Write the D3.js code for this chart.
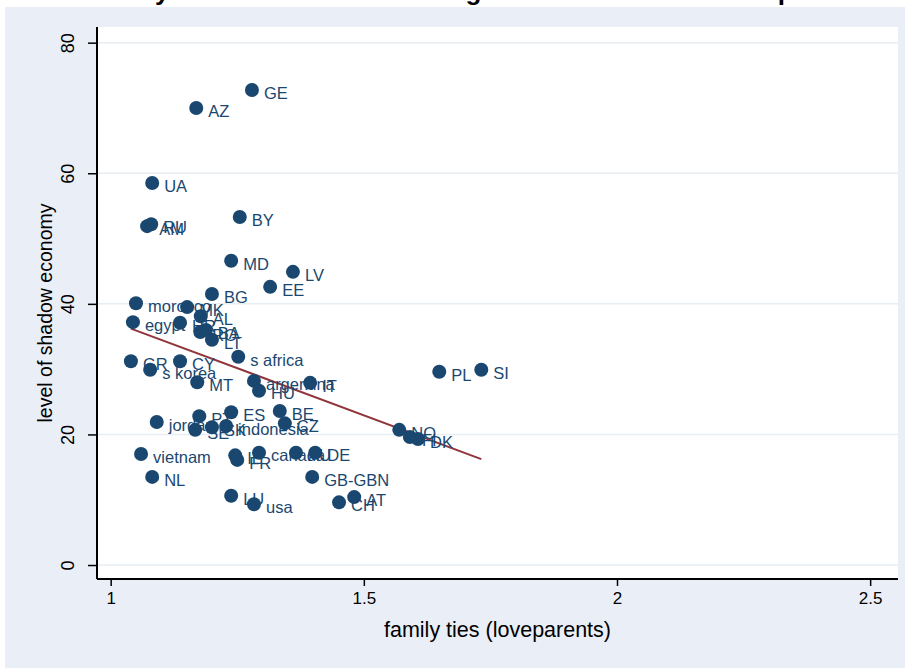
<!DOCTYPE html>
<html>
<head>
<meta charset="utf-8">
<script src="https://cdn.jsdelivr.net/npm/d3@7"></script>
<style>
  body { margin: 0; background: #fff; }
  text { font-family: "Liberation Sans", Arial, sans-serif; }
</style>
</head>
<body>
<div id="chart"></div>
<script>
// country labels, family ties (x) and shadow economy (y)
const countries = ["GE","AZ","UA","AM","RU","BY","MD","LV","EE","BG","morocco","egypt",
  "MK","AL","HR","RO","BA","LT","s africa","GR","CY","s korea","MT","argentina","HU","IT",
  "PL","SI","ES","BE","PT","jordan","SE","SK","indonesia","CZ","NO","FI","DK","vietnam",
  "IE","FR","canada","AU","DE","NL","GB-GBN","LU","usa","CH","AT"];
const loveparents = [1.279,1.169,1.082,1.072,1.080,1.255,1.238,1.360,1.315,1.200,1.050,1.044,
  1.151,1.178,1.137,1.177,1.188,1.200,1.252,1.040,1.137,1.078,1.171,1.283,1.293,1.394,
  1.649,1.732,1.238,1.334,1.175,1.091,1.167,1.200,1.228,1.344,1.570,1.591,1.607,1.060,
  1.246,1.250,1.293,1.366,1.404,1.082,1.398,1.238,1.283,1.451,1.481];
const shadow = [72.75,70.0,58.5,51.9,52.2,53.3,46.6,44.9,42.6,41.5,40.1,37.2,
  39.5,38.1,37.1,35.7,36.0,34.5,31.9,31.2,31.2,29.9,28.0,28.2,26.7,27.9,
  29.6,29.9,23.4,23.6,22.8,21.9,20.7,21.1,21.3,21.7,20.7,19.6,19.3,17.0,
  16.8,16.1,17.2,17.2,17.2,13.5,13.5,10.6,9.3,9.6,10.4];

// fitted line
const fitIntercept = 66.27;
const fitSlope = -28.9;

const xTicks = [1, 1.5, 2, 2.5];
const yTicks = [0, 20, 40, 60, 80];

const width = 905, height = 668;
const navy = "#1a476f";

const svg = d3.select("#chart").append("svg")
  .attr("width", width)
  .attr("height", height);

// graph region background
svg.append("rect")
  .attr("x", 5).attr("y", 7)
  .attr("width", width - 5).attr("height", height - 7)
  .attr("fill", "#eaeef6");

// title, cut off at the top so only descenders show
svg.append("text")
  .attr("x", 87).attr("y", 0)
  .style("font-size", "26px")
  .style("font-weight", "bold")
  .text("Family ties and shadow labor: global cross-section sample");

const pLeft = 97, pRight = 898, pTop = 27, pBottom = 579;

svg.append("rect")
  .attr("x", pLeft).attr("y", pTop)
  .attr("width", pRight - pLeft).attr("height", pBottom - pTop)
  .attr("fill", "#fff");

const x = d3.scaleLinear()
  .domain([0.973, 2.555])
  .range([pLeft, pRight]);

const y = d3.scaleLinear()
  .domain([-2.14, 82.4])
  .range([pBottom, pTop]);

// grid lines
svg.append("g")
  .selectAll("line")
  .data(yTicks)
  .join("line")
  .attr("x1", pLeft).attr("x2", pRight)
  .attr("y1", d => y(d)).attr("y2", d => y(d))
  .attr("stroke", "#e6edf3")
  .attr("stroke-width", 1.5);

// fitted values
const xr = d3.extent(loveparents);
svg.append("line")
  .attr("x1", x(xr[0])).attr("y1", y(fitIntercept + fitSlope * xr[0]))
  .attr("x2", x(xr[1])).attr("y2", y(fitIntercept + fitSlope * xr[1]))
  .attr("stroke", "#90353b")
  .attr("stroke-width", 2);

const pts = countries.map((c, i) => ({ c, lx: loveparents[i], sh: shadow[i] }));

svg.append("g")
  .selectAll("circle")
  .data(pts)
  .join("circle")
  .attr("cx", d => x(d.lx))
  .attr("cy", d => y(d.sh))
  .attr("r", 7)
  .attr("fill", navy);

svg.append("g")
  .selectAll("text")
  .data(pts)
  .join("text")
  .attr("x", d => x(d.lx) + 12)
  .attr("y", d => y(d.sh) + 3)
  .attr("dy", "0.35em")
  .attr("fill", navy)
  .style("font-size", "16.5px")
  .text(d => d.c);

// axes
const xAxis = svg.append("g")
  .attr("transform", `translate(0,${pBottom})`)
  .call(d3.axisBottom(x).tickValues(xTicks).tickSize(7).tickPadding(6)
    .tickFormat(d3.format("")));
xAxis.select(".domain").attr("stroke", "#000").attr("stroke-width", 2)
  .attr("d", `M${pLeft},0H${pRight}`);
xAxis.selectAll(".tick line").attr("stroke", "#000").attr("stroke-width", 1.5);
xAxis.selectAll(".tick text").style("font-size", "17px").attr("fill", "#000")
  .style("font-family", "'Liberation Sans', Arial, sans-serif");

const yAxis = svg.append("g")
  .attr("transform", `translate(${pLeft},0)`)
  .call(d3.axisLeft(y).tickValues(yTicks).tickSize(9).tickPadding(0));
yAxis.select(".domain").attr("stroke", "#000").attr("stroke-width", 2)
  .attr("d", `M0,${pTop}V${pBottom}`);
yAxis.selectAll(".tick line").attr("stroke", "#000").attr("stroke-width", 1.5);
yAxis.selectAll(".tick text")
  .attr("x", 0).attr("dy", 0)
  .attr("transform", "translate(-29,0) rotate(-90)")
  .attr("text-anchor", "middle")
  .attr("dominant-baseline", "central")
  .attr("fill", "#000")
  .style("font-size", "18px")
  .style("font-family", "'Liberation Sans', Arial, sans-serif");

// axis titles
svg.append("text")
  .attr("transform", `translate(45,${(pTop + pBottom) / 2 + 10}) rotate(-90)`)
  .attr("text-anchor", "middle")
  .attr("dominant-baseline", "central")
  .style("font-size", "19.5px")
  .text("level of shadow economy");

svg.append("text")
  .attr("x", (pLeft + pRight) / 2)
  .attr("y", 637)
  .attr("text-anchor", "middle")
  .style("font-size", "21.5px")
  .text("family ties (loveparents)");
</script>
</body>
</html>
